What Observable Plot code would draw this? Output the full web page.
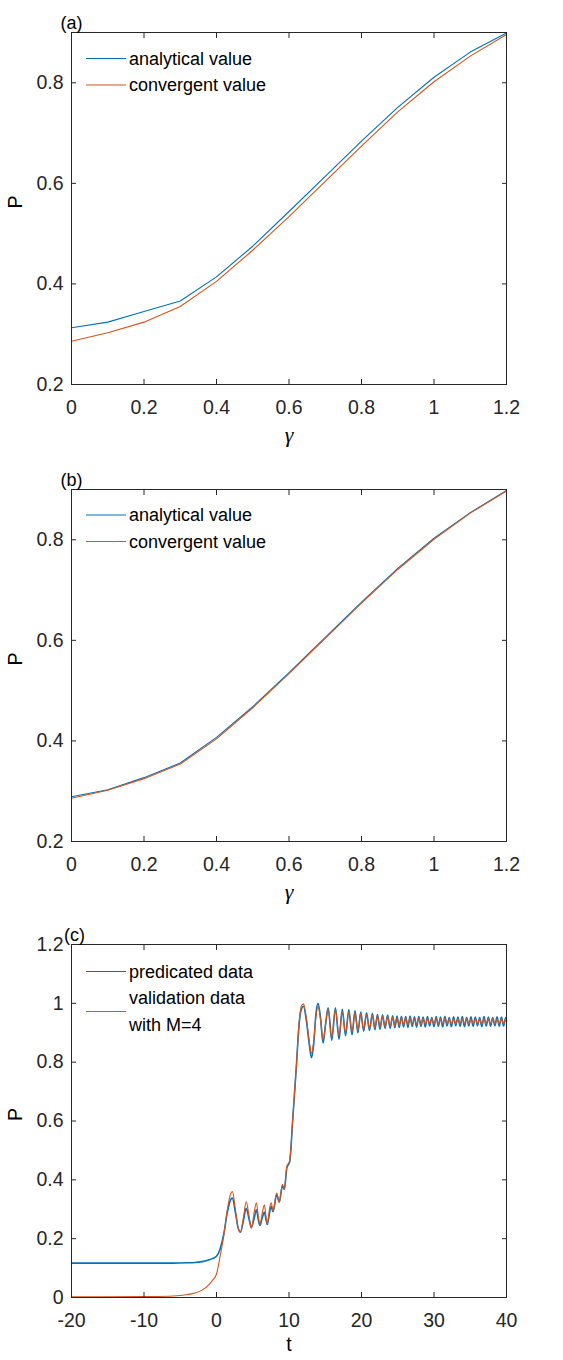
<!DOCTYPE html>
<html><head><meta charset="utf-8">
<script src="https://cdn.jsdelivr.net/npm/d3@7"></script>
<script src="https://cdn.jsdelivr.net/npm/@observablehq/plot@0.6"></script>
<style>
body{margin:0;background:#fff;}
#wrap{width:563px;height:1360px;overflow:hidden;}
#wrap svg{display:block;}
</style></head><body><div id="wrap"></div>
<script>
// ---------- data ----------
const gamma = [0, 0.1, 0.2, 0.3, 0.4, 0.5, 0.6, 0.7, 0.8, 0.9, 1.0, 1.1, 1.2];
const analyticalA = [0.313, 0.324, 0.345, 0.366, 0.414, 0.475, 0.544, 0.614, 0.684, 0.751, 0.811, 0.861, 0.899];
const convergentA = [0.286, 0.303, 0.324, 0.355, 0.405, 0.467, 0.534, 0.604, 0.674, 0.742, 0.802, 0.853, 0.896];
const analyticalB = [0.289, 0.303, 0.327, 0.356, 0.407, 0.468, 0.536, 0.606, 0.676, 0.743, 0.803, 0.854, 0.898];
const convergentB = [0.286, 0.302, 0.325, 0.354, 0.404, 0.466, 0.534, 0.604, 0.674, 0.741, 0.801, 0.853, 0.897];

const tC = [-20, -15, -10, -6, -4, -3, -2, -1, -0.5, 0, 0.5, 1.0, 1.5, 2.0, 2.2, 2.6, 3.0, 3.3, 3.7, 4.1,
  4.5, 4.8, 5.2, 5.5, 5.8, 6.0, 6.3, 6.6, 6.85, 7.0, 7.3, 7.55, 7.8, 8.3, 8.65, 9.1, 9.35, 9.7, 10.1, 10.5,
  11.0, 11.4, 11.7, 12.0, 12.4, 12.8, 13.1, 13.4, 13.7, 14.0, 14.35, 14.7, 15.05, 15.4, 15.9, 16.4, 16.9, 17.35, 17.8, 18.25,
  18.7, 19.1, 19.5, 19.9, 20.3, 20.7, 21.1, 21.5, 21.85, 22.2, 22.55, 22.9, 23.25, 23.6, 23.95, 24.3, 24.6, 24.9, 25.2, 25.5,
  25.8, 26.1, 26.4, 26.7, 27.0, 27.3, 27.6, 27.9, 28.2, 28.5, 28.8, 29.1, 29.4, 29.7, 30.0, 30.3, 30.6, 30.9, 31.2, 31.5,
  31.8, 32.1, 32.4, 32.7, 33.0, 33.3, 33.6, 33.9, 34.2, 34.5, 34.8, 35.1, 35.4, 35.7, 36.0, 36.3, 36.6, 36.9, 37.2, 37.5,
  37.8, 38.1, 38.4, 38.7, 39.0, 39.3, 39.6, 39.9, 40.0];
const predC = [0.117, 0.117, 0.117, 0.117, 0.118, 0.119, 0.122, 0.128, 0.133, 0.140, 0.165, 0.215, 0.290, 0.335, 0.338, 0.290, 0.235, 0.222, 0.260, 0.303,
  0.265, 0.238, 0.270, 0.298, 0.260, 0.245, 0.270, 0.290, 0.262, 0.248, 0.285, 0.310, 0.292, 0.350, 0.325, 0.380, 0.367, 0.440, 0.462, 0.600,
  0.780, 0.930, 0.980, 0.990, 0.940, 0.860, 0.815, 0.860, 0.960, 1.000, 0.950, 0.865, 0.930, 0.985, 0.875, 0.985, 0.878, 0.980, 0.890, 0.978,
  0.893, 0.975, 0.900, 0.970, 0.905, 0.968, 0.908, 0.965, 0.910, 0.962, 0.912, 0.960, 0.915, 0.960, 0.915, 0.958, 0.917, 0.957, 0.918, 0.956,
  0.920, 0.955, 0.918, 0.957, 0.921, 0.954, 0.919, 0.956, 0.922, 0.953, 0.920, 0.955, 0.923, 0.952, 0.921, 0.955, 0.922, 0.953, 0.920, 0.956,
  0.923, 0.952, 0.921, 0.954, 0.924, 0.953, 0.922, 0.955, 0.921, 0.952, 0.923, 0.954, 0.922, 0.953, 0.924, 0.952, 0.921, 0.955, 0.923, 0.953,
  0.922, 0.952, 0.924, 0.954, 0.922, 0.953, 0.923, 0.952, 0.940];
const validC = [0.002, 0.002, 0.003, 0.005, 0.010, 0.015, 0.025, 0.045, 0.060, 0.080, 0.140, 0.210, 0.300, 0.355, 0.360, 0.300, 0.235, 0.222, 0.270, 0.325,
  0.275, 0.235, 0.290, 0.322, 0.270, 0.248, 0.285, 0.315, 0.270, 0.250, 0.300, 0.322, 0.293, 0.355, 0.323, 0.385, 0.368, 0.445, 0.465, 0.600,
  0.780, 0.935, 0.990, 0.998, 0.950, 0.870, 0.830, 0.870, 0.950, 0.990, 0.945, 0.875, 0.930, 0.980, 0.885, 0.978, 0.890, 0.972, 0.900, 0.970,
  0.903, 0.968, 0.908, 0.965, 0.912, 0.962, 0.915, 0.960, 0.917, 0.958, 0.920, 0.955, 0.921, 0.955, 0.922, 0.953, 0.923, 0.952, 0.925, 0.951,
  0.926, 0.950, 0.927, 0.951, 0.927, 0.949, 0.928, 0.950, 0.927, 0.949, 0.928, 0.950, 0.929, 0.948, 0.928, 0.949, 0.929, 0.948, 0.928, 0.949,
  0.929, 0.947, 0.929, 0.948, 0.930, 0.948, 0.929, 0.947, 0.930, 0.948, 0.929, 0.947, 0.930, 0.948, 0.930, 0.947, 0.929, 0.948, 0.930, 0.947,
  0.930, 0.948, 0.930, 0.947, 0.929, 0.948, 0.930, 0.947, 0.938];

const gammaTicks = [0, 0.2, 0.4, 0.6, 0.8, 1, 1.2];
const pTicksAB = [0.2, 0.4, 0.6, 0.8];
const tTicks = [-20, -10, 0, 10, 20, 30, 40];
const pTicksC = [0, 0.2, 0.4, 0.6, 0.8, 1, 1.2];

const legendAB = [["analytical value"], ["convergent value"]];
const legendC = [["predicated data"], ["validation data", "with M=4"]];

// ---------- styling ----------
const BLUE = "#0072BD", RED = "#D95319", INK = "#262626";
const FONT = "'Liberation Sans', Arial, Helvetica, sans-serif";

function legendMark(entries, rowCenters, lineGap) {
  return (index, scales, values, dims) => {
    const ml = (dims && dims.marginLeft) || 71, mt = (dims && dims.marginTop) || 32;
    const g = d3.create("svg:g")
      .attr("font-family", FONT).attr("font-size", 18).attr("fill", "#000")
      .attr("text-anchor", "start");
    entries.forEach((e, i) => {
      const n = e.lines.length;
      const yc = mt + rowCenters[i];
      g.append("line").attr("x1", ml + 15).attr("x2", ml + 55)
        .attr("y1", yc).attr("y2", yc)
        .style("stroke", e.color).style("stroke-width", "1.1px");
      e.lines.forEach((s, j) => {
        g.append("text").attr("x", ml + 58).attr("text-anchor", "start")
          .attr("y", yc + (j - (n - 1) / 2) * lineGap)
          .attr("dy", "0.36em").text(s);
      });
    });
    return g.node();
  };
}

function panel({x, ys, xDomain, yDomain, xTicks, yTicks, tag, tagDx, xLabel, xLabelItalic, xLabelDy,
                height, marginBottom, legend, rowCenters, widths, curve}) {
  const rows = [];
  ys.forEach((arr, s) => arr.forEach((v, i) => rows.push({x: x[i], y: v, s})));
  const fmt = d => String(d);
  return Plot.plot({
    width: 563, height, marginLeft: 71, marginRight: 57, marginTop: 32, marginBottom,
    style: {fontFamily: FONT, fontSize: "19.5px", color: INK, background: "white", overflow: "visible"},
    x: {domain: xDomain}, y: {domain: yDomain},
    marks: [
      Plot.line(rows.filter(d => d.s === 0), {x: "x", y: "y", stroke: BLUE, strokeWidth: widths[0], curve}),
      Plot.line(rows.filter(d => d.s === 1), {x: "x", y: "y", stroke: RED, strokeWidth: widths[1], curve}),
      Plot.frame({stroke: INK, strokeWidth: 1}),
      Plot.axisX(xTicks, {anchor: "bottom", tickSize: -5, tickPadding: 21, tickFormat: fmt, label: null, stroke: INK}),
      Plot.axisX(xTicks, {anchor: "top", tickSize: -5, tickFormat: () => "", label: null, stroke: INK}),
      Plot.axisY(yTicks, {anchor: "left", tickSize: -5, tickPadding: 13, tickFormat: fmt, label: null, stroke: INK}),
      Plot.axisY(yTicks, {anchor: "right", tickSize: -5, tickFormat: () => "", label: null, stroke: INK}),
      Plot.text(["P"], {text: d => d, frameAnchor: "left", dx: -56, rotate: -90, fontSize: 19.5, fill: "#000"}),
      Plot.text([xLabel], {text: d => d, frameAnchor: "bottom", dy: xLabelDy, fontSize: xLabelItalic ? 22 : 19.5,
        fontStyle: xLabelItalic ? "italic" : "normal",
        fontFamily: xLabelItalic ? "'Liberation Serif', 'DejaVu Serif', serif" : FONT, fill: "#000"}),
      Plot.text([tag], {text: d => d, frameAnchor: "top-left", dx: tagDx, dy: -16, textAnchor: "middle", fontSize: 18, fill: "#000"}),
      legendMark(legend, rowCenters, 27)
    ]
  });
}

const wrap = document.getElementById("wrap");
wrap.appendChild(panel({
  x: gamma, ys: [analyticalA, convergentA], xDomain: [0, 1.2], yDomain: [0.2, 0.9],
  xTicks: gammaTicks, yTicks: pTicksAB, tag: "(a)", tagDx: 0, xLabel: "γ", xLabelItalic: true, xLabelDy: 57,
  height: 457, marginBottom: 73, widths: [1.1, 1.1], curve: "linear",
  legend: [{color: BLUE, lines: legendAB[0]}, {color: RED, lines: legendAB[1]}], rowCenters: [26.5, 53]
}));
wrap.appendChild(panel({
  x: gamma, ys: [analyticalB, convergentB], xDomain: [0, 1.2], yDomain: [0.2, 0.9],
  xTicks: gammaTicks, yTicks: pTicksAB, tag: "(b)", tagDx: 0, xLabel: "γ", xLabelItalic: true, xLabelDy: 57,
  height: 455, marginBottom: 71, widths: [1.1, 1.1], curve: "linear",
  legend: [{color: BLUE, lines: legendAB[0]}, {color: RED, lines: legendAB[1]}], rowCenters: [26, 52.5]
}));
wrap.appendChild(panel({
  x: tC, ys: [predC, validC], xDomain: [-20, 40], yDomain: [0, 1.2],
  xTicks: tTicks, yTicks: pTicksC, tag: "(c)", tagDx: 3, xLabel: "t", xLabelItalic: false, xLabelDy: 53,
  height: 448, marginBottom: 63, widths: [1.6, 1.1], curve: "monotone-x",
  legend: [{color: BLUE, lines: legendC[0]}, {color: RED, lines: legendC[1]}], rowCenters: [27.5, 67.5]
}));
</script></body></html>
